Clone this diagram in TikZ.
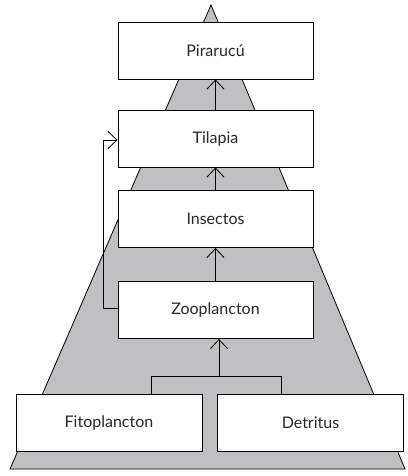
\documentclass[tikz,border=0pt]{standalone}
\usepackage{fontspec}
\setmainfont{Lato}
\usetikzlibrary{arrows.meta}
\definecolor{pyr}{RGB}{192,192,195}
\definecolor{txt}{RGB}{40,40,40}
\tikzset{
  level/.style={draw=black, fill=white, line width=0.9pt, inner sep=0pt,
    font=\fontsize{16}{18}\selectfont, text=txt, minimum height=57pt},
  wide/.style={level, minimum width=195pt},
  base/.style={level, minimum width=186pt},
  link/.style={draw=black, line width=0.8pt},
  arr/.style={link, -{Straight Barb[length=9pt, width=17pt, line width=0.8pt]}}
}
\begin{document}
\begin{tikzpicture}[x=1pt,y=-1pt]
\useasboundingbox (0,0) rectangle (407,476);
\draw[fill=pyr, line width=0.8pt] (211,5) -- (405,469) -- (10,469) -- cycle;
\node[wide] (pir) at (215.5,50.5) {Pirarucú};
\node[wide] (til) at (215.5,138.5) {Tilapia};
\node[wide] (ins) at (215.5,219) {Insectos};
\node[wide] (zoo) at (215.5,310) {Zooplancton};
\node[base] (fit) at (109,422.5) {Fitoplancton};
\node[base] (det) at (310.5,422.5) {Detritus};
\coordinate (brk) at (219,376);
\coordinate (bl) at (151,376);
\coordinate (br) at (281,376);
\coordinate (lx) at (103,0);
\draw[arr] (til.north) -- (pir.south);
\draw[arr] (ins.north) -- (til.south);
\draw[arr] (zoo.north) -- (ins.south);
\draw[arr] (brk) -- (brk |- zoo.south);
\draw[link] (bl |- fit.north) -- (bl) -- (br) -- (br |- det.north);
\draw[arr] ([yshift=2pt]zoo.west) -- ([yshift=2pt]zoo.west -| lx) -- ([yshift=-1.5pt]til.west -| lx) -- ([yshift=-1.5pt]til.west);
\end{tikzpicture}
\end{document}
